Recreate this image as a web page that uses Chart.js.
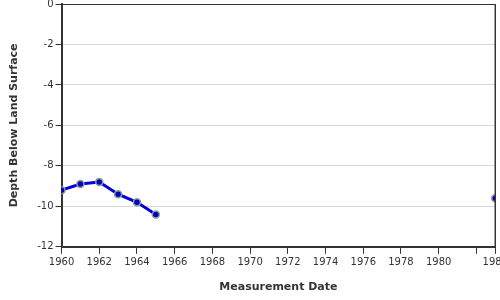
<!DOCTYPE html>
<html>
<head>
<meta charset="utf-8">
<script src="https://cdn.jsdelivr.net/npm/chart.js@4/dist/chart.umd.min.js"></script>
<style>
  html, body { margin: 0; padding: 0; overflow: hidden; background: #fff; }
  #wrap { width: 511px; height: 304px; margin-top: -4px; }
</style>
</head>
<body>
<div id="wrap"><canvas id="depthChart" width="511" height="304"></canvas></div>
<script>
// measurement years and depth below land surface (ft)
var years = [1960, 1961, 1962, 1963, 1964, 1965, null, 1983];
var depths = [-9.2, -8.9, -8.8, -9.4, -9.8, -10.4, null, -9.6];
var xTicks = [1960, 1962, 1964, 1966, 1968, 1970, 1972, 1974, 1976, 1978, 1980, 1982, 1983];
var yTicks = [0, -2, -4, -6, -8, -10, -12];

var points = [];
for (let i = 0; i < years.length; i++) {
    if (years[i] === null) {
        points.push({x: 1974, y: null});
    } else {
        points.push({x: years[i], y: depths[i]});
    }
}

// draw the thin top and right frame lines
const frame = {
    id: 'frame',
    afterDraw(chart) {
        const a = chart.chartArea;
        const ctx = chart.ctx;
        ctx.save();
        ctx.strokeStyle = '#333';
        ctx.lineWidth = 1;
        ctx.beginPath();
        ctx.moveTo(a.left, a.top + 0.5);
        ctx.lineTo(a.right, a.top + 0.5);
        ctx.stroke();
        ctx.lineWidth = 1.5;
        ctx.beginPath();
        ctx.moveTo(a.right, a.top);
        ctx.lineTo(a.right, a.bottom);
        ctx.stroke();
        ctx.restore();
    }
};

Chart.defaults.font.family = 'DejaVu Sans';
Chart.defaults.color = '#333';

var ctx = document.getElementById('depthChart').getContext('2d');
window.depthChart = new Chart(ctx, {
    type: 'line',
    data: {
        datasets: [{
            data: points,
            borderColor: '#0000dd',
            borderWidth: 3,
            backgroundColor: '#0000cc',
            pointBackgroundColor: '#0000cc',
            pointBorderColor: '#8f9f8f',
            pointBorderWidth: 1.5,
            pointRadius: 3.5,
            spanGaps: false,
            tension: 0
        }]
    },
    options: {
        responsive: false,
        animation: false,
        layout: {padding: {top: 0, left: 4, right: 0, bottom: 2}},
        plugins: {legend: {display: false}, tooltip: {enabled: false}},
        scales: {
            x: {
                type: 'linear',
                min: 1960,
                max: 1983,
                afterBuildTicks: function(axis) {
                    axis.ticks = xTicks.map(v => ({value: v}));
                },
                ticks: {
                    autoSkip: false,
                    maxRotation: 0,
                    font: {size: 10},
                    callback: function(v) { return v == 1982 ? '' : String(v); }
                },
                grid: {display: true, drawOnChartArea: false, tickLength: 7, color: '#333', tickColor: '#333'},
                border: {display: true, color: '#333', width: 2},
                title: {display: true, text: 'Measurement Date', font: {size: 11, weight: 'bold'}, padding: {top: 9}}
            },
            y: {
                min: -12,
                max: 0,
                afterBuildTicks: function(axis) {
                    axis.ticks = yTicks.map(v => ({value: v}));
                },
                ticks: {font: {size: 10}, padding: 2},
                grid: {color: '#d8d8d8', tickColor: '#333', tickLength: 6},
                border: {display: true, color: '#333', width: 2},
                title: {display: true, text: 'Depth Below Land Surface', font: {size: 11, weight: 'bold'}, padding: {bottom: 14}}
            }
        }
    },
    plugins: [frame]
});
</script>
</body>
</html>
